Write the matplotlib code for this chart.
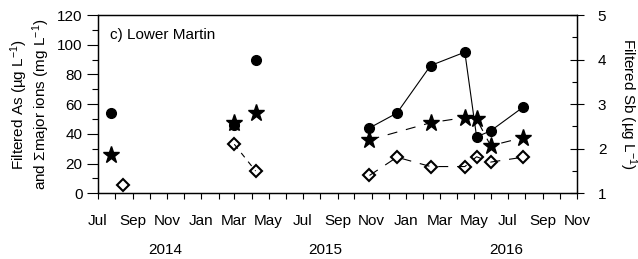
import numpy as np
import pandas as pd
import matplotlib
matplotlib.use('Agg')
import matplotlib.pyplot as plt
import matplotlib.dates as mdates

plt.rcParams['font.family'] = ['Liberation Sans', 'DejaVu Sans']
plt.rcParams['font.size'] = 11
plt.rcParams['mathtext.fontset'] = 'custom'
plt.rcParams['mathtext.rm'] = 'Liberation Sans'
plt.rcParams['mathtext.default'] = 'regular'

# sampling dates and values
dates = pd.to_datetime(['2014-07-24', '2014-08-15', '2015-03-01', '2015-04-08',
                        '2015-10-28', '2015-12-16', '2016-02-14', '2016-04-15',
                        '2016-05-06', '2016-05-31', '2016-07-28'])
as_filt = [54, np.nan, 46, 90, 44, 54, 86, 95, 38, 42, 58]          # circles, left axis
major_ions = [26, np.nan, 47.5, 54, 36, np.nan, 47.5, 51, 50, 32, 37.5]  # stars, left axis
sb_filt = [np.nan, 1.19, 2.1, 1.5, 1.4, 1.81, 1.6, 1.6, 1.82, 1.70, 1.81]  # diamonds, right axis

years = ['2014', '2015', '2016']
year_pos = [0.14, 0.474, 0.852]

fig = plt.figure(figsize=(6.38, 2.59), dpi=100)
ax = fig.add_axes([0.1536, 0.2537, 0.7508, 0.6883])
ax2 = ax.twinx()

s_as = pd.Series(as_filt, index=dates)
s_ion = pd.Series(major_ions, index=dates)
s_sb = pd.Series(sb_filt, index=dates)

# connecting lines (2015-16 campaign only, diamonds from Mar 2015)
c = s_as.iloc[4:].dropna()
ax.plot(c.index, c.values, color='black', lw=0.8, zorder=2)
st = s_ion.iloc[4:].dropna()
ax.plot(st.index, st.values, color='black', lw=0.8, ls=(0, (9, 8)), zorder=2)
d1 = s_sb.iloc[2:4].dropna()
d2 = s_sb.iloc[4:].dropna()
ax2.plot(d1.index, d1.values, color='black', lw=0.8, ls=(0, (5, 5)), zorder=2)
ax2.plot(d2.index, d2.values, color='black', lw=0.8, ls=(0, (9, 8)), zorder=2)

# markers
ax.plot(s_as.index, s_as.values, 'o', color='black', ms=7, ls='none', zorder=3)
ax.plot(s_ion.index, s_ion.values, '*', color='black', ms=12.5, ls='none', zorder=4)
ax2.plot(s_sb.index, s_sb.values, 'D', mfc='none', mec='black', mew=1.5, ms=6.5,
         ls='none', zorder=3)

ax.set_xlim(pd.Timestamp('2014-07-01'), pd.Timestamp('2016-11-01'))
ax.set_ylim(0, 120)
ax2.set_ylim(1, 5)

ax.xaxis.set_major_locator(mdates.MonthLocator(bymonth=[1, 3, 5, 7, 9, 11]))
ax.xaxis.set_minor_locator(mdates.MonthLocator())
ax.xaxis.set_major_formatter(mdates.DateFormatter('%b'))
ax.set_yticks(np.arange(0, 121, 20))
ax.set_yticks(np.arange(0, 121, 10), minor=True)
ax2.set_yticks([1, 2, 3, 4, 5])
ax2.set_yticks([1.5, 2.5, 3.5, 4.5], minor=True)

ax.tick_params(axis='x', which='both', direction='out', length=4, width=0.8, pad=11, top=False)
ax.tick_params(axis='y', which='major', direction='out', length=8, width=0.8, pad=3)
ax.tick_params(axis='y', which='minor', direction='out', length=4, width=0.8)
ax2.tick_params(axis='y', which='major', direction='inout', length=10, width=0.8, pad=10)
ax2.tick_params(axis='y', which='minor', direction='in', length=3.5, width=0.8)

for a in (ax, ax2):
    for sp in a.spines.values():
        sp.set_linewidth(0.9)

ax.set_ylabel('Filtered As (µg L$^{-1}$)\nand Σmajor ions (mg L$^{-1}$)',
              linespacing=1.0, labelpad=4)
ax2.set_ylabel('Filtered Sb (µg L$^{-1}$)', rotation=270, va='center')
ax2.yaxis.set_label_coords(1.107, 0.5)

ax.text(0.025, 0.89, 'c) Lower Martin', transform=ax.transAxes, va='center')

for y, p in zip(years, year_pos):
    ax.text(p, -0.318, y, transform=ax.transAxes, ha='center', va='center')

fig.savefig('out.png', dpi=100)
